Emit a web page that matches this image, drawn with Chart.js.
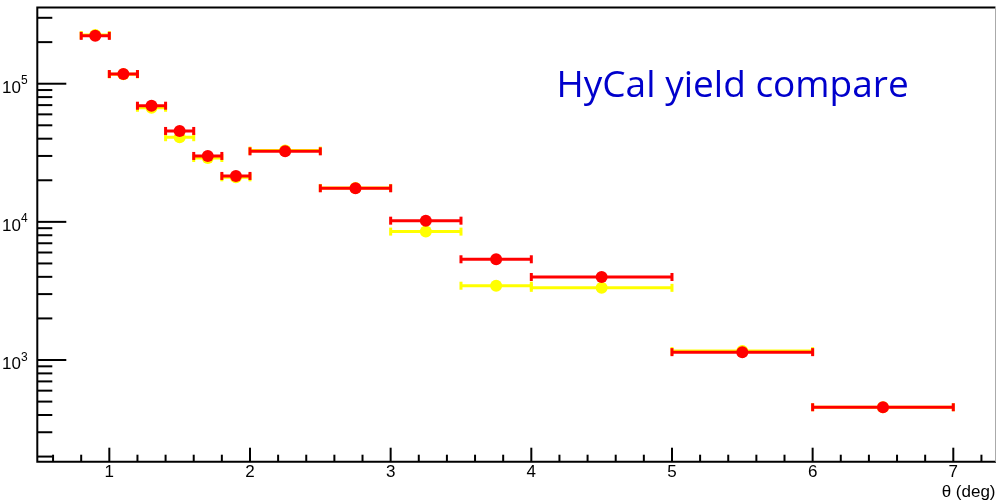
<!DOCTYPE html>
<html><head><meta charset="utf-8">
<script src="https://cdn.jsdelivr.net/npm/chart.js@4.4.0/dist/chart.umd.min.js"></script>
<style>html,body{margin:0;padding:0;background:#fff;overflow:hidden}#wrap{width:996px;height:504px;position:relative}</style>
</head><body><div id="wrap"><canvas id="c" width="996" height="504"></canvas></div>
<script>
// ---- data ----
const theta = [0.9, 1.1, 1.3, 1.5, 1.7, 1.9, 2.25, 2.75, 3.25, 3.75, 4.5, 5.5, 6.5];
const thetaErr = [0.1, 0.1, 0.1, 0.1, 0.1, 0.1, 0.25, 0.25, 0.25, 0.25, 0.5, 0.5, 0.5];
const yieldRed = [222000, 117500, 69300, 45500, 30000, 21500, 32400, 17500, 10200, 5360, 3990, 1140, 455];
const yieldYellow = [225000, 117000, 67000, 41000, 29000, 21000, 32800, 17600, 8500, 3450, 3330, 1160, 455];
const xTickValues = [1, 2, 3, 4, 5, 6, 7];
const yTickExponents = [3, 4, 5];
const titleText = 'HyCal yield compare';
const xAxisTitle = 'θ (deg)';

const FONT = '"Liberation Sans", Arial, sans-serif';
Chart.defaults.font.family = FONT;

const rootPlugin = {
  id: 'rootStyle',
  beforeDatasetDraw(chart, args) {
    const ds = chart.data.datasets[args.index];
    const xs = chart.scales.x, ys = chart.scales.y, ctx = chart.ctx, a = chart.chartArea;
    ctx.save();
    ctx.beginPath(); ctx.rect(a.left, a.top, a.right - a.left, a.bottom - a.top); ctx.clip();
    ctx.strokeStyle = ds.barColor; ctx.fillStyle = ds.barColor; ctx.lineWidth = 3;
    ds.data.forEach((p, i) => {
      const x1 = xs.getPixelForValue(p.x - ds.xErr[i]);
      const x2 = xs.getPixelForValue(p.x + ds.xErr[i]);
      const y = ys.getPixelForValue(p.y);
      ctx.beginPath(); ctx.moveTo(x1, y); ctx.lineTo(x2, y); ctx.stroke();
      ctx.fillRect(x1 - 1.5, y - 4, 3, 8);
      ctx.fillRect(x2 - 1.5, y - 4, 3, 8);
    });
    ctx.restore();
  },
  afterDatasetsDraw(chart) {
    const xs = chart.scales.x, ys = chart.scales.y, ctx = chart.ctx, a = chart.chartArea;
    ctx.save();
    ctx.strokeStyle = '#000'; ctx.lineWidth = 2;
    // frame
    ctx.beginPath();
    ctx.moveTo(a.right, a.top); ctx.lineTo(a.left, a.top); ctx.lineTo(a.left, a.bottom); ctx.lineTo(a.right + 1, a.bottom);
    ctx.stroke();
    ctx.strokeStyle = '#aaa'; ctx.lineWidth = 1;
    ctx.beginPath(); ctx.moveTo(a.right, a.top); ctx.lineTo(a.right, a.bottom); ctx.stroke();
    // x ticks (inward)
    ctx.strokeStyle = '#000'; ctx.lineWidth = 2;
    for (let k = 3; k <= 36; k++) {
      const v = k * 0.2;
      const px = xs.getPixelForValue(v);
      if (px < a.left + 1 || px > a.right) continue;
      const major = k % 5 === 0;
      ctx.beginPath(); ctx.moveTo(px, a.bottom); ctx.lineTo(px, a.bottom - (major ? 14 : 7)); ctx.stroke();
    }
    // y ticks (inward)
    for (let e = 2; e <= 5; e++) {
      for (let m = 1; m <= 9; m++) {
        const v = m * Math.pow(10, e);
        if (v < ys.min || v > ys.max) continue;
        const py = ys.getPixelForValue(v);
        ctx.beginPath(); ctx.moveTo(a.left, py); ctx.lineTo(a.left + (m === 1 ? 29 : 15), py); ctx.stroke();
      }
    }
    // y labels 10^n
    ctx.fillStyle = '#000';
    yTickExponents.forEach(e => {
      const py = ys.getPixelForValue(Math.pow(10, e));
      ctx.font = '17px ' + FONT; ctx.textAlign = 'right'; ctx.textBaseline = 'alphabetic';
      ctx.fillText('10', 21, py + 9);
      ctx.font = '12px ' + FONT; ctx.textAlign = 'left';
      ctx.fillText(String(e), 21, py + 0.5);
    });
    // title text
    ctx.font = '37px "Open Sans", sans-serif';
    ctx.fillStyle = '#0000cc'; ctx.textAlign = 'left'; ctx.textBaseline = 'alphabetic';
    ctx.fillText(titleText, 556.5, 96.7);
    ctx.restore();
  }
};

new Chart(document.getElementById('c'), {
  type: 'scatter',
  data: {
    datasets: [
      { label: 'red', data: theta.map((x, i) => ({ x, y: yieldRed[i] })), xErr: thetaErr,
        barColor: '#ff0000', backgroundColor: '#ff0000', borderWidth: 0, pointRadius: 6, pointHoverRadius: 6 },
      { label: 'yellow', data: theta.map((x, i) => ({ x, y: yieldYellow[i] })), xErr: thetaErr,
        barColor: '#ffff00', backgroundColor: '#ffff00', borderWidth: 0, pointRadius: 6, pointHoverRadius: 6 }
    ]
  },
  options: {
    responsive: false, animation: false, devicePixelRatio: 1,
    layout: { autoPadding: false, padding: { left: 0, top: 7.5, right: 0.5, bottom: 0 } },
    plugins: { legend: { display: false }, tooltip: { enabled: false }, title: { display: false } },
    scales: {
      x: {
        type: 'linear', position: 'bottom', min: 0.488, max: 7.30,
        grid: { display: false, drawTicks: false }, border: { display: false },
        ticks: { stepSize: 1, includeBounds: false, autoSkip: false, maxRotation: 0, padding: 0,
                 color: '#000', font: { size: 17 } },
        afterBuildTicks: s => { s.ticks = xTickValues.map(v => ({ value: v })); },
        title: { display: true, text: xAxisTitle, align: 'end', color: '#000', font: { size: 17 },
                 padding: { top: 0, bottom: 1.7 } },
        afterFit: s => { s.height = 42.3; }
      },
      y: {
        type: 'logarithmic', position: 'left', min: 183.6, max: 356200,
        grid: { display: false, drawTicks: false }, border: { display: false },
        ticks: { display: false },
        afterFit: s => { s.width = 37.3; }
      }
    }
  },
  plugins: [rootPlugin]
});
</script>
</body></html>
